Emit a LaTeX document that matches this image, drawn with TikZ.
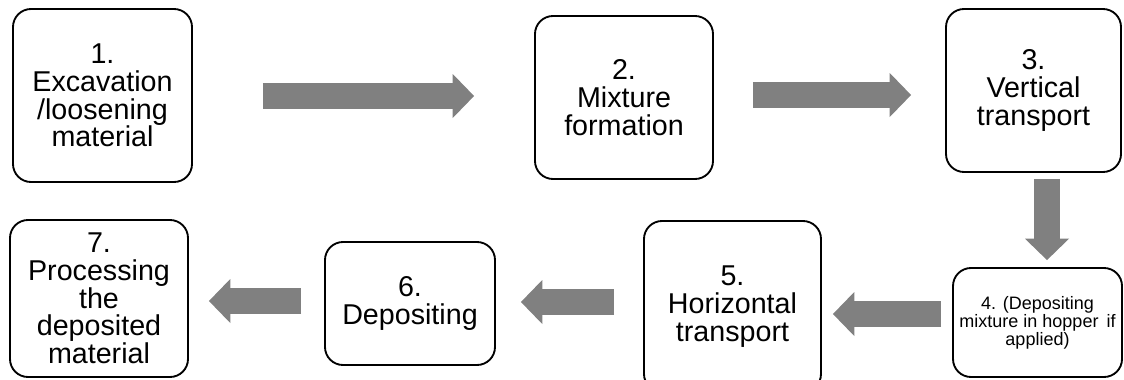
\documentclass[tikz,border=0pt]{standalone}
\usepackage{fontspec}
\setmainfont{Liberation Sans}
\usetikzlibrary{arrows.meta,calc}
\definecolor{arrowgray}{RGB}{128,128,128}
\tikzset{
  stepbox/.style={draw=black, line width=1.4pt, rounded corners=13.5pt, fill=white,
    inner sep=0pt, align=center, font=\fontsize{21.5}{20.8}\selectfont},
  smallbox/.style={stepbox, font=\fontsize{13.5}{11.5}\selectfont},
  blockarrow/.style={draw=arrowgray, line width=19.5pt,
    -{Triangle[width=33pt,length=16pt,line width=0pt,fill=arrowgray]}}
}
\begin{document}
\begin{tikzpicture}[x=0.75pt,y=-0.75pt]
\path[use as bounding box, clip] (0,0) rectangle (1124,379);
\node[stepbox, minimum width=134.25pt, minimum height=129.75pt] (b1) at (102.5,95.5)
  {1.\\Excavation\\/loosening\\material};
\node[stepbox, minimum width=133.5pt, minimum height=122.25pt] (b2) at (624,97.5)
  {2.\\Mixture\\formation};
\node[stepbox, minimum width=131.25pt, minimum height=122.25pt] (b3) at (1033.5,90.5)
  {3.\\Vertical\\transport};
\node[smallbox, minimum width=126.75pt, minimum height=81.75pt] (b4) at (1037.5,322.5)
  {4. (Depositing\\mixture in hopper\, if\\applied)};
\node[stepbox, minimum width=132.75pt, minimum height=128.25pt] (b5) at (732.5,306.5)
  {5.\\Horizontal\\transport};
\node[stepbox, minimum width=127.5pt, minimum height=92.25pt] (b6) at (410,303.5)
  {6.\\Depositing};
\node[stepbox, minimum width=133.5pt, minimum height=117.75pt] (b7) at (99,298.5)
  {7.\\Processing\\the\\deposited\\material};
% block arrows
\draw[blockarrow, shorten <=52.5pt, shorten >=45pt] (b1.east |- 0,96) -- (b2.west |- 0,96);
\draw[blockarrow, shorten <=29.25pt, shorten >=25.5pt] (b2.east |- 0,95) -- (b3.west |- 0,95);
\draw[blockarrow, shorten <=4.5pt, shorten >=5.25pt] ($(b3.south)+(13.5,0)$) -- ($(b3.south |- b4.north)+(13.5,0)$);
\draw[blockarrow, shorten <=8.25pt, shorten >=8.25pt] (b4.west |- 0,314) -- (b5.east |- 0,314);
\draw[blockarrow, shorten <=21.75pt, shorten >=18.75pt] (b5.west |- 0,302) -- (b6.east |- 0,302);
\draw[blockarrow, shorten <=17.25pt, shorten >=15pt] (b6.west |- 0,301) -- (b7.east |- 0,301);
\end{tikzpicture}
\end{document}
